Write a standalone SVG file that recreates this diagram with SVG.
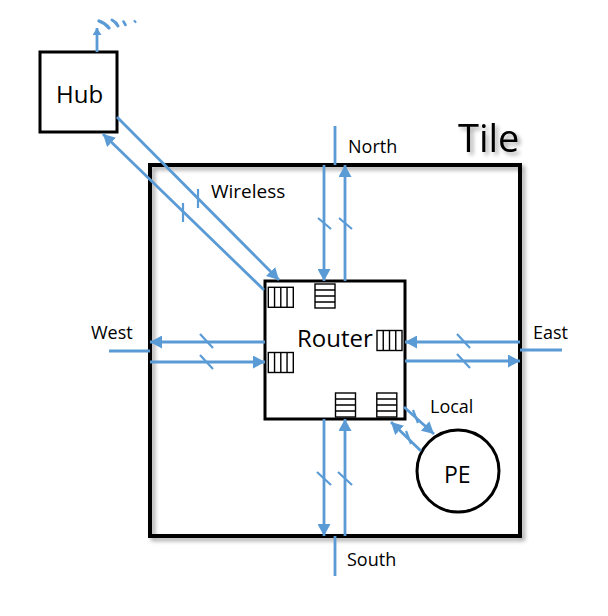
<svg xmlns="http://www.w3.org/2000/svg" width="608" height="616" viewBox="0 0 608 616">
<style>
.txt{font-family:"Open Sans","Liberation Sans",sans-serif;fill:#000}
.box{fill:#fff;stroke:#000}
.link{stroke:#5B9BD5;stroke-width:2.8;fill:none}
.arr{marker-end:url(#ah)}
.tick{stroke:#5B9BD5;stroke-width:2.2;fill:none}
.buf{fill:#fff;stroke:#000;stroke-width:1.4}
</style>
<defs>
<marker id="ah" markerUnits="userSpaceOnUse" markerWidth="13" markerHeight="13" refX="12" refY="6.5" orient="auto">
<path d="M0,0 L12,6.5 L0,13 z" fill="#5B9BD5"/>
</marker>
<marker id="ahs" markerUnits="userSpaceOnUse" markerWidth="8" markerHeight="9" refX="7" refY="4.5" orient="auto">
<path d="M0,0 L7,4.5 L0,9 z" fill="#5B9BD5"/>
</marker>
<filter id="sh" x="-10%" y="-10%" width="120%" height="120%">
<feGaussianBlur in="SourceAlpha" stdDeviation="2"/>
<feOffset dx="3" dy="3" result="b"/>
<feComponentTransfer><feFuncA type="linear" slope="0.35"/></feComponentTransfer>
<feMerge><feMergeNode/><feMergeNode in="SourceGraphic"/></feMerge>
</filter>
<g id="vbuf">
<rect class="buf" x="0" y="0" width="25" height="20"/>
<path class="buf" d="M6.25,0V20M12.5,0V20M18.75,0V20"/>
</g>
<g id="hbuf">
<rect class="buf" x="0" y="0" width="20" height="24"/>
<path class="buf" d="M0,6H20M0,12H20M0,18H20"/>
</g>
</defs>
<rect width="608" height="616" fill="#fff"/>

<g id="tile">
<rect x="150" y="165" width="370" height="371" fill="none" stroke="#000" stroke-width="4" filter="url(#sh)"/>
<text class="txt" x="458" y="152" font-size="38" filter="url(#sh)">Tile</text>
</g>

<g id="hub">
<rect class="box" x="40" y="52" width="77" height="80" stroke-width="3"/>
<text class="txt" x="56" y="103" font-size="24">Hub</text>
</g>

<g id="router">
<rect class="box" x="265" y="281" width="140" height="138" stroke-width="3"/>
<text class="txt" x="297" y="347" font-size="24">Router</text>
<use href="#vbuf" x="268.3" y="287.3"/>
<use href="#hbuf" x="315" y="284"/>
<use href="#vbuf" x="268.3" y="352.5"/>
<use href="#vbuf" x="377" y="330.5"/>
<use href="#hbuf" x="335.5" y="393"/>
<use href="#hbuf" x="376.8" y="393"/>
</g>

<g id="pe">
<circle cx="458" cy="471" r="41" fill="#fff" stroke="#000" stroke-width="3"/>
<text class="txt" x="444" y="483" font-size="23">PE</text>
</g>

<g id="labels">
<text class="txt" x="348" y="153" font-size="18">North</text>
<text class="txt" x="347" y="566" font-size="18">South</text>
<text class="txt" x="91" y="339" font-size="18">West</text>
<text class="txt" x="533" y="339" font-size="18">East</text>
<text class="txt" x="211" y="198" font-size="19">Wireless</text>
<text class="txt" x="430" y="413" font-size="18">Local</text>
</g>

<g id="connectors">
<!-- antenna -->
<line class="link" x1="97" y1="52" x2="97" y2="28" marker-end="url(#ahs)" stroke-width="2.5"/>
<g stroke="#5B9BD5" stroke-linecap="round" fill="none">
<path d="M99,21 Q105,23 109,28" stroke-width="3.4"/>
<path d="M112,20 Q116,22 118,26" stroke-width="3"/>
<line x1="123.5" y1="21.5" x2="125.5" y2="25" stroke-width="2.6"/>
<line x1="134.5" y1="21" x2="135.5" y2="22" stroke-width="2.2"/>
</g>
<!-- stubs -->
<line class="link" x1="335" y1="126" x2="335" y2="165"/>
<line class="link" x1="335" y1="536" x2="335" y2="576"/>
<line class="link" x1="109" y1="351" x2="150" y2="351"/>
<line class="link" x1="520" y1="350" x2="562" y2="350"/>
<!-- north -->
<line class="link arr" x1="324" y1="165" x2="324" y2="281"/>
<line class="link arr" x1="345" y1="281" x2="345" y2="165"/>
<line class="tick" x1="318" y1="218" x2="331" y2="229"/>
<line class="tick" x1="339" y1="218" x2="352" y2="229"/>
<!-- south -->
<line class="link arr" x1="324" y1="419" x2="324" y2="536"/>
<line class="link arr" x1="345" y1="536" x2="345" y2="419"/>
<line class="tick" x1="317" y1="472" x2="331" y2="485"/>
<line class="tick" x1="338" y1="472" x2="352" y2="485"/>
<!-- west -->
<line class="link arr" x1="265" y1="342" x2="150" y2="342"/>
<line class="link arr" x1="150" y1="362" x2="265" y2="362"/>
<line class="tick" x1="200" y1="334" x2="213" y2="348"/>
<line class="tick" x1="200" y1="355" x2="213" y2="369"/>
<!-- east -->
<line class="link arr" x1="520" y1="342" x2="405" y2="342"/>
<line class="link arr" x1="405" y1="361" x2="520" y2="361"/>
<line class="tick" x1="457" y1="334" x2="470" y2="348"/>
<line class="tick" x1="457" y1="354" x2="470" y2="368"/>
<!-- wireless -->
<line class="link arr" x1="117" y1="117" x2="279" y2="280"/>
<line class="link arr" x1="264" y1="290" x2="103" y2="134"/>
<line class="tick" x1="198" y1="189" x2="198" y2="208"/>
<line class="tick" x1="183" y1="203" x2="183" y2="222"/>
<!-- local -->
<line class="link arr" x1="404" y1="407" x2="434" y2="434"/>
<line class="link arr" x1="421" y1="451" x2="391" y2="422"/>
<line class="tick" x1="413" y1="410" x2="418" y2="423"/>
<line class="tick" x1="406" y1="431" x2="411" y2="444"/>
</g>
</svg>
